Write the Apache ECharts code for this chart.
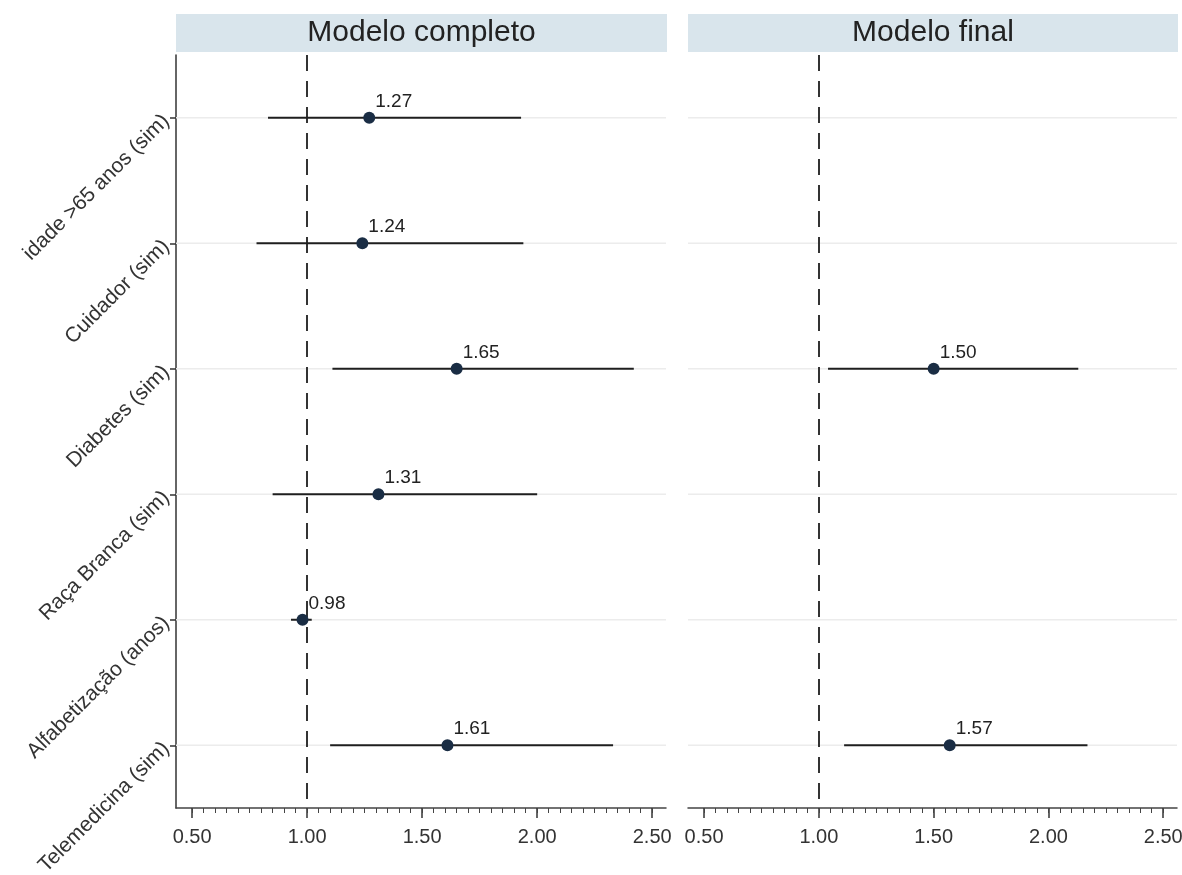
<!DOCTYPE html>
<html>
<head>
<meta charset="utf-8">
<script src="https://cdn.jsdelivr.net/npm/echarts@6/dist/echarts.min.js"></script>
<style>
  html, body { margin: 0; padding: 0; background: #fff; }
  #chart { width: 1182px; height: 875px; }
</style>
</head>
<body>
<div id="chart"></div>
<script>
// categorias (de cima para baixo)
const categories = ['idade >65 anos (sim)', 'Cuidador (sim)', 'Diabetes (sim)', 'Raça Branca (sim)', 'Alfabetização (anos)', 'Telemedicina (sim)'];
// modelo completo
const fullOR   = [1.27, 1.24, 1.65, 1.31, 0.98, 1.61];
const fullLow  = [0.83, 0.78, 1.11, 0.85, 0.93, 1.10];
const fullHigh = [1.93, 1.94, 2.42, 2.00, 1.02, 2.33];
// modelo final
const finalOR   = [null, null, 1.50, null, null, 1.57];
const finalLow  = [null, null, 1.04, null, null, 1.11];
const finalHigh = [null, null, 2.13, null, null, 2.17];
// eixo x
const majorTicks = [0.5, 1.0, 1.5, 2.0, 2.5];
const minorStep = 0.05;
const panelTitles = ['Modelo completo', 'Modelo final'];

const FONT = '"Liberation Sans", Arial, sans-serif';
const X_MIN = 0.43, X_MAX = 2.56;

let minorTicks = [];
for (let i = 0; i <= Math.round((majorTicks[majorTicks.length - 1] - majorTicks[0]) / minorStep); i++) {
  minorTicks.push(+(majorTicks[0] + i * minorStep).toFixed(2));
}

function pointData(mid) {
  let out = [];
  mid.forEach((v, i) => { if (v != null) out.push([v, i]); });
  return out;
}
function ciData(lo, hi) {
  let out = [];
  lo.forEach((v, i) => { if (v != null) out.push([v, hi[i], i]); });
  return out;
}

let myChart = echarts.init(document.getElementById('chart'));

const grids = [
  { left: 176, right: 516, top: 55, bottom: 67, containLabel: false, outerBoundsMode: 'none' },
  { left: 688, right: 5, top: 55, bottom: 67, containLabel: false, outerBoundsMode: 'none' }
];

let xAxes = [];
let yAxes = [];
let series = [];
let graphics = [];

grids.forEach((g, k) => {
  // eixo principal
  xAxes.push({
    type: 'value', gridIndex: k, min: X_MIN, max: X_MAX, position: 'bottom',
    axisLine: { show: true, onZero: false, lineStyle: { color: '#444', width: 1.5 } },
    axisTick: { show: true, customValues: majorTicks, length: 10, lineStyle: { color: '#333', width: 1.5 } },
    axisLabel: {
      customValues: majorTicks, margin: 19, fontFamily: FONT, fontSize: 20, color: '#333',
      formatter: v => v.toFixed(2)
    },
    splitLine: { show: false }
  });
  // ticks menores
  xAxes.push({
    type: 'value', gridIndex: k, min: X_MIN, max: X_MAX, position: 'bottom',
    axisLine: { show: false, onZero: false },
    axisTick: { show: true, customValues: minorTicks, length: 5, lineStyle: { color: '#444', width: 1 } },
    axisLabel: { show: false },
    splitLine: { show: false }
  });
  yAxes.push({
    type: 'category', gridIndex: k, data: categories, inverse: true,
    axisLine: { show: k === 0, lineStyle: { color: '#333', width: 1.5 } },
    axisTick: { show: k === 0, alignWithLabel: true, length: 6, lineStyle: { color: '#333', width: 1.5 } },
    axisLabel: { show: k === 0, rotate: 45, margin: 10, fontFamily: FONT, fontSize: 21, color: '#333' },
    splitLine: { show: false }
  });

  const mid = k === 0 ? fullOR : finalOR;
  const lo = k === 0 ? fullLow : finalLow;
  const hi = k === 0 ? fullHigh : finalHigh;
  const xi = k * 2;

  // linhas de grade horizontais
  series.push({
    type: 'custom', xAxisIndex: xi, yAxisIndex: k, silent: true, z: 1,
    data: categories.map((c, i) => [1, i]),
    encode: { x: 0, y: 1 },
    renderItem(params, api) {
      const cs = params.coordSys;
      const y = api.coord([api.value(0), api.value(1)])[1];
      return {
        type: 'line',
        shape: { x1: cs.x, y1: y, x2: cs.x + cs.width, y2: y },
        style: { stroke: '#ececec', lineWidth: 1.5 }
      };
    }
  });
  // intervalos de confiança
  series.push({
    type: 'custom', xAxisIndex: xi, yAxisIndex: k, silent: true, z: 3,
    data: ciData(lo, hi),
    encode: { x: [0, 1], y: 2 },
    renderItem(params, api) {
      const a = api.coord([api.value(0), api.value(2)]);
      const b = api.coord([api.value(1), api.value(2)]);
      return {
        type: 'line',
        shape: { x1: a[0], y1: a[1], x2: b[0], y2: b[1] },
        style: { stroke: '#1f1f1f', lineWidth: 2 }
      };
    }
  });
  // pontos
  series.push({
    type: 'scatter', xAxisIndex: xi, yAxisIndex: k, z: 4,
    data: pointData(mid),
    symbolSize: 12,
    itemStyle: { color: '#1a2d44', opacity: 1 },
    label: {
      show: true, position: [12, -10], align: 'left', verticalAlign: 'middle',
      fontFamily: FONT, fontSize: 19, color: '#222',
      formatter: p => p.value[0].toFixed(2)
    },
    markLine: {
      silent: true, symbol: 'none', z: 2,
      label: { show: false },
      lineStyle: { type: [16, 10], color: '#333', width: 2 },
      data: [{ xAxis: 1 }]
    }
  });

  // faixa do título do painel
  const w = 1182 - g.left - g.right + 1;
  graphics.push({
    type: 'rect', left: g.left, top: 14,
    shape: { width: w, height: 38 },
    style: { fill: '#d9e5ec' }
  });
  graphics.push({
    type: 'text', x: g.left + w / 2, y: 33,
    style: {
      text: panelTitles[k], fontFamily: FONT, fontSize: 30, fill: '#222',
      align: 'center', verticalAlign: 'middle'
    }
  });
});

let option = {
  backgroundColor: '#fff',
  animation: false,
  grid: grids,
  xAxis: xAxes,
  yAxis: yAxes,
  series: series,
  graphic: graphics
};
myChart.setOption(option, true);
window.addEventListener('resize', () => {
  myChart.resize();
});
</script>
</body>
</html>
